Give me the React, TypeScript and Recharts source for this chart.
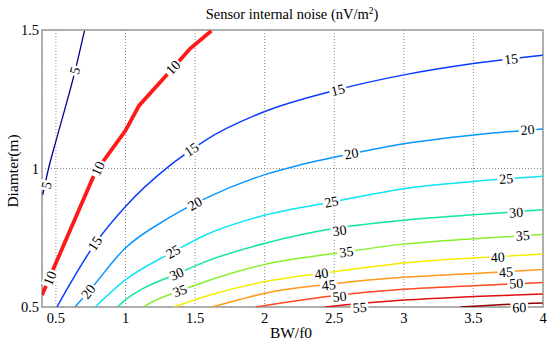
import React from 'react';
import { LineChart, Line, XAxis, YAxis, CartesianGrid, ReferenceArea, ReferenceDot } from 'recharts';

type P = [number, number];

const xTicks = [0.5, 1, 1.5, 2, 2.5, 3, 3.5, 4];
const yTicks = [0.5, 1, 1.5];

const c5: P[] = [[0.406, 0.906], [0.447, 1.0], [0.498, 1.095], [0.638, 1.353], [0.705, 1.497]];
const c10: P[] = [[0.4, 0.543], [0.782, 0.986], [1.0, 1.137], [1.097, 1.227], [1.343, 1.364], [1.463, 1.432], [1.617, 1.497]];
const c15: P[] = [[0.507, 0.5], [0.782, 0.729], [0.997, 0.861], [1.32, 1.011], [1.475, 1.068], [1.571, 1.101], [1.996, 1.205], [2.496, 1.281], [3.0, 1.338], [3.5, 1.379], [3.998, 1.409]];
const c20: P[] = [[0.638, 0.501], [0.734, 0.555], [0.997, 0.712], [1.296, 0.817], [1.571, 0.891], [1.996, 0.977], [2.24, 1.011], [2.623, 1.053], [3.0, 1.089], [3.5, 1.121], [3.998, 1.143]];
const c25: P[] = [[0.782, 0.5], [0.997, 0.597], [1.343, 0.699], [1.571, 0.759], [1.996, 0.831], [2.48, 0.879], [2.79, 0.909], [3.0, 0.927], [3.5, 0.953], [3.998, 0.972]];
const c30: P[] = [[0.942, 0.5], [0.997, 0.525], [1.128, 0.567], [1.368, 0.619], [1.571, 0.663], [1.996, 0.729], [2.496, 0.783], [3.0, 0.813], [3.5, 0.833], [3.998, 0.851]];
const c35: P[] = [[1.128, 0.5], [1.191, 0.518], [1.391, 0.558], [1.571, 0.591], [1.996, 0.653], [2.496, 0.693], [3.0, 0.727], [3.5, 0.746], [3.998, 0.762]];
const c40: P[] = [[1.348, 0.5], [1.463, 0.52], [1.607, 0.543], [1.996, 0.591], [2.496, 0.627], [3.0, 0.659], [3.5, 0.677], [3.998, 0.691]];
const c45: P[] = [[1.621, 0.5], [1.822, 0.527], [1.996, 0.549], [2.496, 0.584], [3.0, 0.607], [3.5, 0.621], [3.998, 0.635]];
const c50: P[] = [[1.937, 0.5], [2.073, 0.511], [2.496, 0.541], [3.0, 0.564], [3.5, 0.577], [3.998, 0.588]];
const c55: P[] = [[2.431, 0.5], [2.768, 0.516], [3.0, 0.525], [3.5, 0.538], [3.998, 0.547]];
const c60: P[] = [[3.407, 0.5], [3.687, 0.508], [3.998, 0.514]];

type Contour = { level: number; pts: P[]; color: string; width: number; curve: 'monotone' | 'linear' };
const contours: Contour[] = [
  { level: 5, pts: c5, color: '#00008f', width: 1.3, curve: 'monotone' },
  { level: 15, pts: c15, color: '#0a3cff', width: 1.5, curve: 'monotone' },
  { level: 20, pts: c20, color: '#0a96ff', width: 1.5, curve: 'monotone' },
  { level: 25, pts: c25, color: '#10e4f4', width: 1.5, curve: 'monotone' },
  { level: 30, pts: c30, color: '#12e69a', width: 1.5, curve: 'monotone' },
  { level: 35, pts: c35, color: '#88f02a', width: 1.5, curve: 'monotone' },
  { level: 40, pts: c40, color: '#f6ec00', width: 1.5, curve: 'monotone' },
  { level: 45, pts: c45, color: '#ff9a1a', width: 1.5, curve: 'monotone' },
  { level: 50, pts: c50, color: '#ff4a22', width: 1.5, curve: 'monotone' },
  { level: 55, pts: c55, color: '#e01010', width: 1.5, curve: 'monotone' },
  { level: 60, pts: c60, color: '#900000', width: 1.5, curve: 'monotone' },
  { level: 10, pts: c10, color: '#ff1a1a', width: 3.8, curve: 'linear' },
];

type Lab = { text: string; x: number; y: number; angle: number };
const labels: Lab[] = [
  { text: '5', x: 0.638, y: 1.353, angle: -75 },
  { text: '5', x: 0.434, y: 0.939, angle: -77 },
  { text: '10', x: 1.343, y: 1.364, angle: -46 },
  { text: '10', x: 0.803, y: 1.0, angle: -65 },
  { text: '10', x: 0.459, y: 0.604, angle: -67 },
  { text: '15', x: 1.475, y: 1.068, angle: -33 },
  { text: '15', x: 0.782, y: 0.729, angle: -57 },
  { text: '15', x: 2.527, y: 1.283, angle: -14 },
  { text: '15', x: 3.771, y: 1.394, angle: -6 },
  { text: '20', x: 0.734, y: 0.555, angle: -52 },
  { text: '20', x: 1.499, y: 0.872, angle: -30 },
  { text: '20', x: 2.623, y: 1.053, angle: -10 },
  { text: '20', x: 3.89, y: 1.139, angle: -5 },
  { text: '25', x: 1.343, y: 0.699, angle: -30 },
  { text: '25', x: 2.48, y: 0.879, angle: -11 },
  { text: '25', x: 3.735, y: 0.962, angle: -4 },
  { text: '30', x: 1.368, y: 0.619, angle: -24 },
  { text: '30', x: 2.539, y: 0.775, angle: -8 },
  { text: '30', x: 3.807, y: 0.84, angle: -4 },
  { text: '35', x: 1.391, y: 0.558, angle: -20 },
  { text: '35', x: 2.587, y: 0.698, angle: -7 },
  { text: '35', x: 3.854, y: 0.757, angle: -3 },
  { text: '40', x: 2.408, y: 0.62, angle: -8 },
  { text: '40', x: 3.675, y: 0.679, angle: -3 },
  { text: '45', x: 2.46, y: 0.578, angle: -6 },
  { text: '45', x: 3.735, y: 0.625, angle: -3 },
  { text: '50', x: 2.539, y: 0.537, angle: -5 },
  { text: '50', x: 3.807, y: 0.584, angle: -3 },
  { text: '55', x: 2.683, y: 0.497, angle: -4 },
  { text: '60', x: 3.83, y: 0.497, angle: -2 },
];

const SERIF = '"Liberation Serif", "Times New Roman", Times, serif';

export default function App() {
  return (
    <div style={{ position: 'absolute', left: 0, top: 0, width: 550, height: 342, background: '#fff', fontFamily: SERIF }}>
      <LineChart width={550} height={342} margin={{ top: 30, right: 7, bottom: 0, left: 0 }} style={{ fontFamily: SERIF }}>
        <CartesianGrid stroke="#8a8a8a" strokeDasharray="1 2" strokeWidth={1} />
        <XAxis
          type="number"
          dataKey="x"
          domain={[0.4, 4]}
          ticks={xTicks}
          allowDataOverflow
          height={35}
          tickSize={0}
          tickMargin={6}
          axisLine={false}
          tickLine={false}
          interval={0}
          tick={{ fill: '#000', fontSize: 14.5, fontFamily: SERIF, style: { fontFamily: SERIF } }}
        />
        <YAxis
          type="number"
          dataKey="y"
          domain={[0.5, 1.5]}
          ticks={yTicks}
          allowDataOverflow
          width={42}
          tickSize={0}
          tickMargin={3}
          axisLine={false}
          tickLine={false}
          interval={0}
          tick={{ fill: '#000', fontSize: 14.5, fontFamily: SERIF, style: { fontFamily: SERIF } }}
        />
        <ReferenceArea x1={0.4} x2={4} y1={0.5} y2={1.5} fill="none" fillOpacity={0} stroke="#9a9a9a" strokeWidth={1.5} />
        {contours.map((c) => (
          <Line
            key={c.level}
            data={c.pts.map(([x, y]) => ({ x, y }))}
            dataKey="y"
            type={c.curve}
            stroke={c.color}
            strokeWidth={c.width}
            dot={false}
            activeDot={false}
            isAnimationActive={false}
          />
        ))}
        {labels.map((l, i) => {
          const w = l.text.length * 7.2 + 3;
          return (
            <ReferenceDot
              key={'lab' + i}
              x={l.x}
              y={l.y}
              r={1}
              ifOverflow="hidden"
              shape={(p: any) => (
                <g transform={`translate(${p.cx},${p.cy}) rotate(${l.angle})`}>
                  <rect x={-w / 2} y={-6.5} width={w} height={13} fill="#fff" />
                  <text
                    x={0}
                    y={0}
                    textAnchor="middle"
                    dominantBaseline="central"
                    fontSize={14}
                    fontFamily={SERIF}
                    style={{ fontFamily: SERIF }}
                    fill="#000"
                  >
                    {l.text}
                  </text>
                </g>
              )}
            />
          );
        })}
      </LineChart>
      <svg width={550} height={342} style={{ position: 'absolute', left: 0, top: 0, pointerEvents: 'none', fontFamily: SERIF }}>
        <text x={292} y={19} textAnchor="middle" fontSize={14.5} fill="#000">
          Sensor internal noise (nV/m
          <tspan dy={-5} fontSize={9.5}>2</tspan>
          <tspan dy={5}>)</tspan>
        </text>
        <text x={291} y={338} textAnchor="middle" fontSize={15.5} fill="#000">
          BW/f0
        </text>
        <text
          x={0}
          y={0}
          transform="translate(12,171) rotate(-90)"
          textAnchor="middle"
          dominantBaseline="central"
          fontSize={15.5}
          fill="#000"
        >
          Diamter(m)
        </text>
      </svg>
    </div>
  );
}
